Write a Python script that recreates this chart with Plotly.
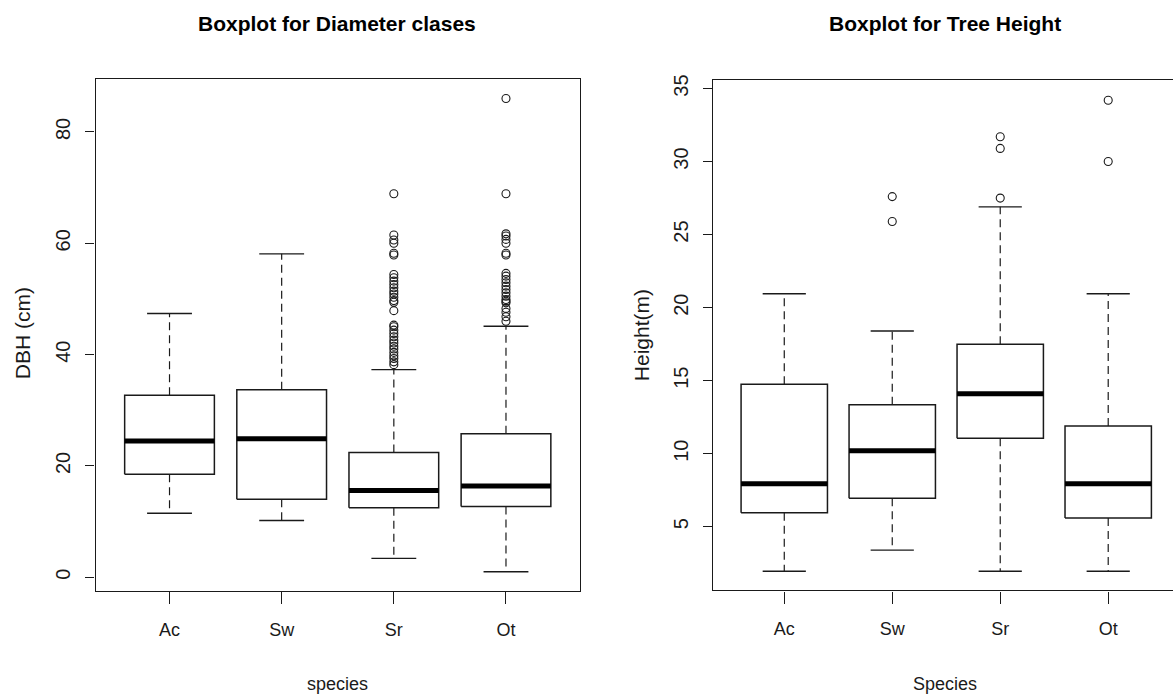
import plotly.graph_objects as go

W, H = 1173, 696

# ---- data -------------------------------------------------------------
species = ["Ac", "Sw", "Sr", "Ot"]

# DBH (cm) five-number summaries per species
dbh_lower = [11.5, 10.2, 3.4, 1.0]
dbh_q1 = [18.5, 14.0, 12.5, 12.7]
dbh_median = [24.5, 24.9, 15.6, 16.4]
dbh_q3 = [32.7, 33.7, 22.4, 25.8]
dbh_upper = [47.4, 58.1, 37.3, 45.1]
dbh_outliers = [
    [],
    [],
    [38.2, 38.7, 39.3, 39.8, 40.4, 41.0, 41.5, 42.1, 42.6, 43.2, 43.8, 44.4,
     45.0, 45.3, 47.9, 49.4, 49.7, 50.3, 50.9, 51.4, 52.0, 52.6, 53.2, 53.8,
     54.4, 57.9, 58.2, 60.0, 60.6, 61.5, 68.9],
    [46.0, 46.8, 47.6, 48.3, 49.3, 49.6, 49.9, 50.5, 51.1, 51.7, 52.3, 52.9,
     53.5, 54.1, 54.6, 57.9, 58.2, 60.0, 60.7, 61.3, 61.7, 68.9, 86.0],
]

# Tree height (m) five-number summaries per species
h_lower = [1.95, 3.4, 1.95, 1.95]
h_q1 = [5.95, 6.95, 11.05, 5.6]
h_median = [7.95, 10.2, 14.1, 7.95]
h_q3 = [14.75, 13.35, 17.5, 11.9]
h_upper = [20.95, 18.4, 26.9, 20.95]
h_outliers = [
    [],
    [25.9, 27.6],
    [27.5, 30.9, 31.7],
    [30.0, 34.2],
]

dbh_ticks = [0, 20, 40, 60, 80]
h_ticks = [5, 10, 15, 20, 25, 30, 35]

# ---- styling ----------------------------------------------------------
INK = "#1a1a1a"
FONT = "Liberation Sans, Arial, sans-serif"
BOX_W = 0.4      # half box width (boxwex 0.8)
STAPLE_W = 0.2   # half staple width

fig = go.Figure()


def add_boxplot(xa, ya, lower, q1, med, q3, upper, outliers):
    bx, by, mx, my, wx, wy, sx, sy, ox, oy = ([] for _ in range(10))
    for i in range(len(species)):
        c = i + 1
        bx += [c - BOX_W, c + BOX_W, c + BOX_W, c - BOX_W, c - BOX_W, None]
        by += [q1[i], q1[i], q3[i], q3[i], q1[i], None]
        mx += [c - BOX_W, c + BOX_W, None]
        my += [med[i], med[i], None]
        wx += [c, c, None, c, c, None]
        wy += [q3[i], upper[i], None, q1[i], lower[i], None]
        sx += [c - STAPLE_W, c + STAPLE_W, None, c - STAPLE_W, c + STAPLE_W, None]
        sy += [upper[i], upper[i], None, lower[i], lower[i], None]
        ox += [c] * len(outliers[i])
        oy += outliers[i]
    common = dict(xaxis=xa, yaxis=ya, showlegend=False, hoverinfo="skip")
    # dashed whiskers
    fig.add_trace(go.Scatter(x=wx, y=wy, mode="lines",
                             line=dict(color=INK, width=1.2, dash="8px,5px"), **common))
    # staples
    fig.add_trace(go.Scatter(x=sx, y=sy, mode="lines",
                             line=dict(color=INK, width=1.4), **common))
    # boxes
    fig.add_trace(go.Scatter(x=bx, y=by, mode="lines", fill="toself", fillcolor="white",
                             line=dict(color=INK, width=1.5), **common))
    # medians
    fig.add_trace(go.Scatter(x=mx, y=my, mode="lines",
                             line=dict(color="black", width=5), **common))
    # outliers
    fig.add_trace(go.Scatter(x=ox, y=oy, mode="markers",
                             marker=dict(symbol="circle-open", size=8,
                                         color=INK, line=dict(width=1.1)), **common))


add_boxplot("x", "y", dbh_lower, dbh_q1, dbh_median, dbh_q3, dbh_upper, dbh_outliers)
add_boxplot("x2", "y2", h_lower, h_q1, h_median, h_q3, h_upper, h_outliers)

xaxis_common = dict(
    tickmode="array", tickvals=[1, 2, 3, 4], ticktext=species,
    showgrid=False, zeroline=False, showline=True, linecolor=INK, linewidth=1.3,
    mirror=True, ticks="outside", ticklen=12, tickcolor=INK, tickwidth=1.2,
    tickfont=dict(family=FONT, size=18, color=INK), ticklabelstandoff=10,
    fixedrange=True,
)
yaxis_common = dict(
    showgrid=False, zeroline=False, showline=True, linecolor=INK, linewidth=1.3,
    ticks="outside", ticklen=9, tickcolor=INK, tickwidth=1.2, tickangle=-90,
    tickfont=dict(family=FONT, size=20, color=INK), ticklabelstandoff=7,
    fixedrange=True,
)

fig.update_layout(
    width=W, height=H,
    margin=dict(l=0, r=0, t=0, b=0),
    paper_bgcolor="white", plot_bgcolor="white",
    xaxis=dict(domain=[95.5 / W, 580 / W], range=[0.34, 4.66], anchor="y", **xaxis_common),
    yaxis=dict(domain=[1 - 590 / H, 1 - 74 / H], range=[-2.45, 89.45], anchor="x",
               tickvals=dbh_ticks, mirror=True, **yaxis_common),
    xaxis2=dict(domain=[713 / W, 1.0], range=[0.34, 4.60], anchor="y2", **xaxis_common),
    yaxis2=dict(domain=[1 - 589.5 / H, 1 - 75 / H], range=[0.64, 35.56], anchor="x2",
                tickvals=h_ticks, mirror=False, **yaxis_common),
)

texts = [
    dict(text="<b>Boxplot for Diameter clases</b>", x=337 / W, y=1 - 18 / H,
         font=dict(family=FONT, size=21, color="black")),
    dict(text="<b>Boxplot for Tree Height</b>", x=945 / W, y=1 - 18 / H,
         font=dict(family=FONT, size=21, color="black")),
    dict(text="species", x=337 / W, y=1 - 684 / H,
         font=dict(family=FONT, size=18, color=INK)),
    dict(text="Species", x=945 / W, y=1 - 684 / H,
         font=dict(family=FONT, size=18, color=INK)),
    dict(text="DBH (cm)", x=22 / W, y=1 - 330 / H, textangle=-90,
         font=dict(family=FONT, size=21, color=INK)),
    dict(text="Height(m)", x=641 / W, y=1 - 332 / H, textangle=-90,
         font=dict(family=FONT, size=21, color=INK)),
]
for t in texts:
    fig.add_annotation(xref="paper", yref="paper", showarrow=False,
                       xanchor="center", yanchor="middle", **t)

fig.write_html("out.html")
